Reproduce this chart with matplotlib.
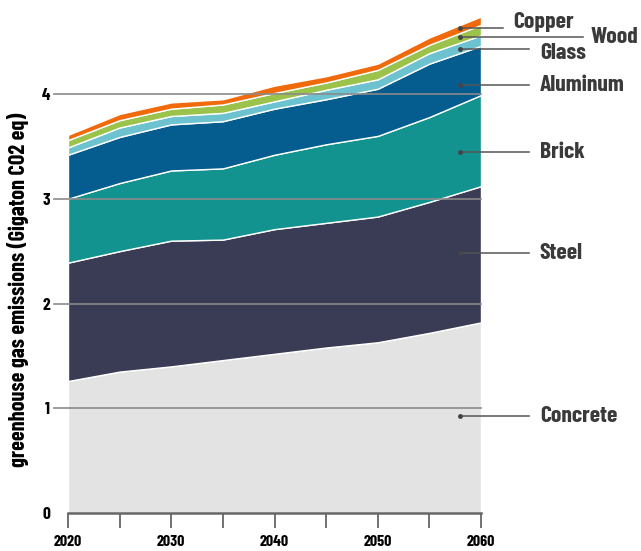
import matplotlib.pyplot as plt
import numpy as np

years = [2020, 2025, 2030, 2035, 2040, 2045, 2050, 2055, 2060]
concrete = [1.26, 1.35, 1.40, 1.46, 1.52, 1.58, 1.63, 1.72, 1.82]
steel = [1.13, 1.15, 1.20, 1.15, 1.19, 1.19, 1.20, 1.25, 1.30]
brick = [0.61, 0.65, 0.67, 0.68, 0.71, 0.75, 0.77, 0.81, 0.87]
aluminum = [0.42, 0.44, 0.44, 0.45, 0.44, 0.43, 0.45, 0.51, 0.47]
glass = [0.07, 0.09, 0.08, 0.08, 0.07, 0.09, 0.09, 0.10, 0.10]
wood = [0.07, 0.07, 0.07, 0.08, 0.08, 0.07, 0.09, 0.08, 0.10]
copper = [0.05, 0.06, 0.06, 0.05, 0.07, 0.06, 0.06, 0.07, 0.08]

names = ['Concrete', 'Steel', 'Brick', 'Aluminum', 'Glass', 'Wood', 'Copper']
colors = ['#e3e3e3', '#393c54', '#13938f', '#045c8f', '#6cc3cf', '#9bc34b', '#f06a0c']

plt.rcParams['font.family'] = ['Barlow Condensed', 'DejaVu Sans']
plt.rcParams['font.weight'] = 'bold'

fig = plt.figure(figsize=(6.41, 5.51), dpi=100)
ax = fig.add_axes([68/641, 38/551, 413/641, 4.8*104.75/551])

series = [concrete, steel, brick, aluminum, glass, wood, copper]
ax.stackplot(years, *series, colors=colors, edgecolor='white', linewidth=1.0)

ax.set_xlim(2020, 2060)
ax.set_ylim(0, 4.8)

# gridlines on top, running out to the tick labels
for y in [1, 2, 3, 4]:
    ax.plot([2018.6, 2060], [y, y], color='#8a8a8a', lw=1.2, zorder=5, clip_on=False)

for s in ['top', 'right', 'left']:
    ax.spines[s].set_visible(False)
ax.spines['bottom'].set_color('#666666')
ax.spines['bottom'].set_linewidth(1.8)
ax.spines['bottom'].set_zorder(6)

ax.set_xticks(years)
ax.set_xticklabels([str(y) if y % 10 == 0 else '' for y in years], fontsize=11.5, fontweight='bold')
ax.tick_params(axis='x', length=11, width=1.3, color='#666666', pad=5)
ax.set_yticks([0, 1, 2, 3, 4])
ax.set_yticklabels(['0', '1', '2', '3', '4'], fontsize=12.5, fontweight='bold')
ax.tick_params(axis='y', length=0, pad=13)
ax.set_ylabel('greenhouse gas emissions (Gigaton CO2 eq)', fontsize=16, fontweight='bold')
ax.yaxis.set_label_coords(-0.094, 2.13 / 4.8)

# labels on the right: dot inside the band, leader line, name
xd = 2058
line_y = [0.93, 2.48, 3.45, 4.09, 4.43, 4.54, 4.63]
text_y = [0.93, 2.48, 3.45, 4.09, 4.39, 4.54, 4.69]
line_end = [2064.65, 2064.65, 2064.65, 2064.65, 2064.65, 2069.9, 2062.1]
text_x = [2065.7, 2065.7, 2065.7, 2065.7, 2065.7, 2070.6, 2063.1]
for i, name in enumerate(names):
    ax.plot([xd, line_end[i]], [line_y[i], line_y[i]], color='#555555', lw=1.1, zorder=7, clip_on=False)
    ax.plot([xd], [line_y[i]], 'o', ms=2.5, color='#444444', zorder=8, clip_on=False)
    ax.text(text_x[i], text_y[i], name, fontsize=17, fontweight='bold',
            color='#3a3a3a', va='center', ha='left', clip_on=False)

fig.savefig('out.png', dpi=100)
